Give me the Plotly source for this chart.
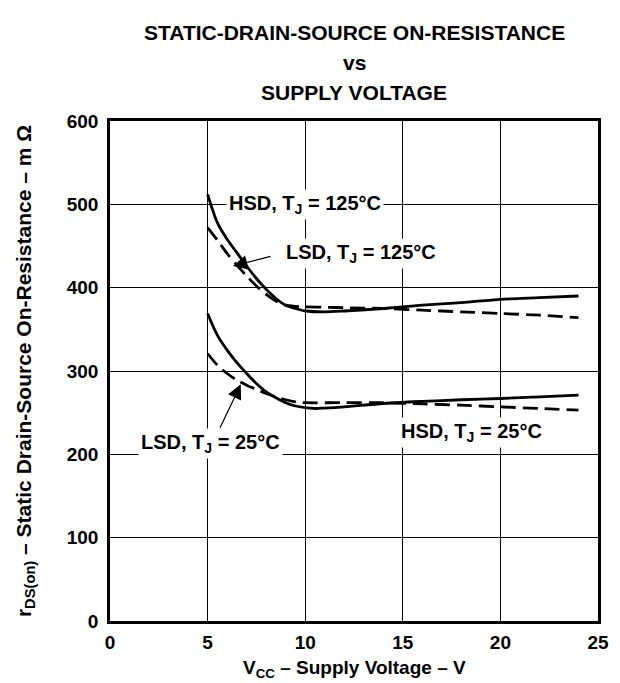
import plotly.graph_objects as go

# ---- data ----
vcc_hsd125 = [5, 5.5, 6, 6.5, 7, 7.5, 8, 8.5, 9, 9.5, 10, 11, 12, 14, 16, 18, 20, 22, 24]
r_hsd125 = [512, 478, 458, 442, 426, 411, 398, 387, 379, 375, 372, 371, 372, 375, 379, 382, 386, 388, 390]

vcc_lsd125 = [5, 5.5, 6, 6.5, 7, 7.5, 8, 8.5, 9, 9.5, 10, 11, 12, 14, 16, 18, 20, 22, 24]
r_lsd125 = [472, 457, 441, 427, 414, 402, 392, 384, 379, 377.5, 377, 376.5, 376, 375, 373, 371, 369, 367, 364]

vcc_hsd25 = [5, 5.5, 6, 6.5, 7, 7.5, 8, 8.5, 9, 9.5, 10, 10.5, 11, 12, 14, 16, 18, 20, 22, 24]
r_hsd25 = [369, 343, 325, 310, 297, 285, 275, 268, 262, 258, 256, 255, 255.5, 257, 261, 263.5, 265.5, 267, 269, 271]

vcc_lsd25 = [5, 5.5, 6, 6.5, 7, 7.5, 8, 8.5, 9, 9.5, 10, 12, 14, 16, 18, 20, 22, 24]
r_lsd25 = [321, 307, 297, 289, 283, 278, 273, 269, 265.5, 263, 262, 262, 262, 260.5, 259, 257, 255, 253]

x_ticks = [0, 5, 10, 15, 20, 25]
y_ticks = [0, 100, 200, 300, 400, 500, 600]

title_lines = ["STATIC-DRAIN-SOURCE ON-RESISTANCE", "vs", "SUPPLY VOLTAGE"]
x_title = "V<sub>CC</sub> – Supply Voltage – V"
y_title = "r<sub>DS(on)</sub> – Static Drain-Source On-Resistance – m Ω"

curve_labels = ["HSD, T<sub>J</sub> = 125°C", "LSD, T<sub>J</sub> = 125°C",
                "LSD, T<sub>J</sub> = 25°C", "HSD, T<sub>J</sub> = 25°C"]
label_x = [9.97, 12.85, 5.16, 18.5]
label_y = [500, 441, 213, 226]

FONT = "Liberation Sans, Arial, Helvetica, sans-serif"

fig = go.Figure()
solid = dict(color="black", width=2.8, shape="spline", smoothing=0.8)
dashed = dict(color="black", width=2.8, shape="spline", smoothing=0.8, dash="15px,7px")

fig.add_trace(go.Scatter(x=vcc_hsd125, y=r_hsd125, mode="lines", line=solid, showlegend=False))
fig.add_trace(go.Scatter(x=vcc_lsd125, y=r_lsd125, mode="lines", line=dashed, showlegend=False))
fig.add_trace(go.Scatter(x=vcc_hsd25, y=r_hsd25, mode="lines", line=solid, showlegend=False))
fig.add_trace(go.Scatter(x=vcc_lsd25, y=r_lsd25, mode="lines", line=dashed, showlegend=False))

afont = dict(family=FONT, size=20, color="black", weight="bold")

for txt, x, y in zip(curve_labels, label_x, label_y):
    fig.add_annotation(x=x, y=y, xref="x", yref="y", text=txt, showarrow=False,
                       font=afont, bgcolor="white", borderpad=2)

# arrows
fig.add_annotation(x=6.3, y=426, ax=8.3, ay=438, xref="x", yref="y", axref="x", ayref="y",
                   text="", showarrow=True, arrowhead=2, arrowsize=2.4, arrowwidth=1.2,
                   arrowcolor="black")
fig.add_annotation(x=6.7, y=284, ax=5.6, ay=230, xref="x", yref="y", axref="x", ayref="y",
                   text="", showarrow=True, arrowhead=2, arrowsize=2.4, arrowwidth=1.2,
                   arrowcolor="black")

# title lines (paper y above the plot top)
for txt, yp in zip(title_lines, [1.178, 1.116, 1.056]):
    fig.add_annotation(x=0.5, y=yp, xref="paper", yref="paper", text=txt, showarrow=False,
                       font=dict(family=FONT, size=21, color="black", weight="bold"),
                       yanchor="middle")

# x-axis title as annotation so it stays inside the page
fig.add_annotation(x=0.5, y=-0.096, xref="paper", yref="paper", text=x_title, showarrow=False,
                   font=dict(family=FONT, size=19, color="black", weight="bold"),
                   yanchor="middle")

axis_common = dict(showgrid=True, gridcolor="black", gridwidth=1, zeroline=False,
                   showline=True, linecolor="black", linewidth=2.5, mirror=True,
                   ticks="outside", tickcolor="white",
                   tickfont=dict(family=FONT, size=19, color="black", weight="bold"))

fig.update_xaxes(range=[0, 25], tickvals=x_ticks, ticklen=2, **axis_common)
fig.update_yaxes(range=[0, 600], tickvals=y_ticks, ticklen=5, **axis_common,
                 title=dict(text=y_title,
                            font=dict(family=FONT, size=21, color="black", weight="bold"),
                            standoff=30))

fig.update_layout(width=620, height=683, paper_bgcolor="white", plot_bgcolor="white",
                  margin=dict(l=102, r=30, t=113, b=70), showlegend=False)

fig.write_html("out.html")
